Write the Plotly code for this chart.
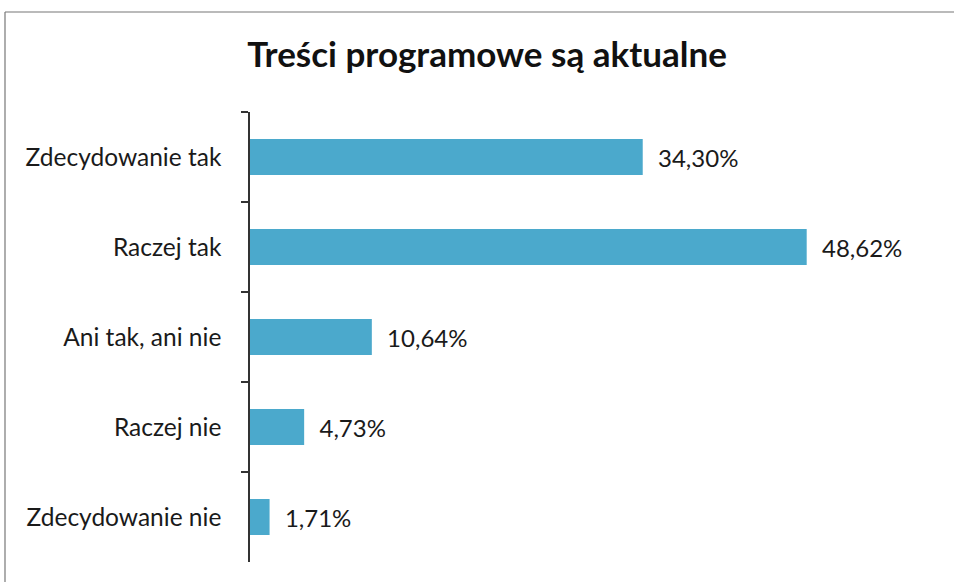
import plotly.graph_objects as go

categories = ["Zdecydowanie tak", "Raczej tak", "Ani tak, ani nie", "Raczej nie", "Zdecydowanie nie"]
values = [34.30, 48.62, 10.64, 4.73, 1.71]
title_text = "Treści programowe są aktualne"

FONT = "Lato, 'Open Sans', sans-serif"

fig = go.Figure()
fig.add_trace(go.Bar(
    y=categories,
    x=values,
    orientation="h",
    width=0.4,
    marker=dict(color="#4BA9CC", line=dict(width=0)),
    texttemplate="\u00a0\u00a0%{x:.2f}%",
    textposition="outside",
    cliponaxis=False,
    textfont=dict(family=FONT, size=24, color="#1a1a1a"),
    hoverinfo="skip",
))

fig.update_layout(
    width=954, height=582,
    margin=dict(l=250, r=24, t=112, b=20),
    paper_bgcolor="white", plot_bgcolor="white",
    separators=",.",
    showlegend=False,
    title=dict(text="<b>" + title_text + "</b>", x=487 / 954, xanchor="center",
               y=1 - 55 / 582, yanchor="middle",
               font=dict(family=FONT, size=35, color="#111")),
    xaxis=dict(range=[0, 680 / 11.45], visible=False, fixedrange=True),
    yaxis=dict(
        type="category",
        categoryorder="array", categoryarray=categories,
        autorange="reversed",
        showline=True, linecolor="#333", linewidth=1.5,
        ticks="outside", ticklen=7, tickcolor="#333", tickwidth=1.5,
        tickson="boundaries",
        showgrid=False,
        fixedrange=True,
        ticklabelstandoff=22,
        tickfont=dict(family=FONT, size=24.5, color="#1a1a1a"),
    ),
    shapes=[
        dict(type="line", xref="paper", yref="paper", x0=-245/680, x1=1 + 24/680,
             y0=1 + 100/450, y1=1 + 100/450, line=dict(color="#777", width=1.2)),
        dict(type="line", xref="paper", yref="paper", x0=-245/680, x1=-245/680,
             y0=1 + 100/450, y1=-20/450, line=dict(color="#777", width=1.2)),
    ],
)

fig.write_html(
    "out.html",
    config={"displayModeBar": False},
    post_script="document.body.style.margin='0';document.body.style.overflow='hidden';",
)
